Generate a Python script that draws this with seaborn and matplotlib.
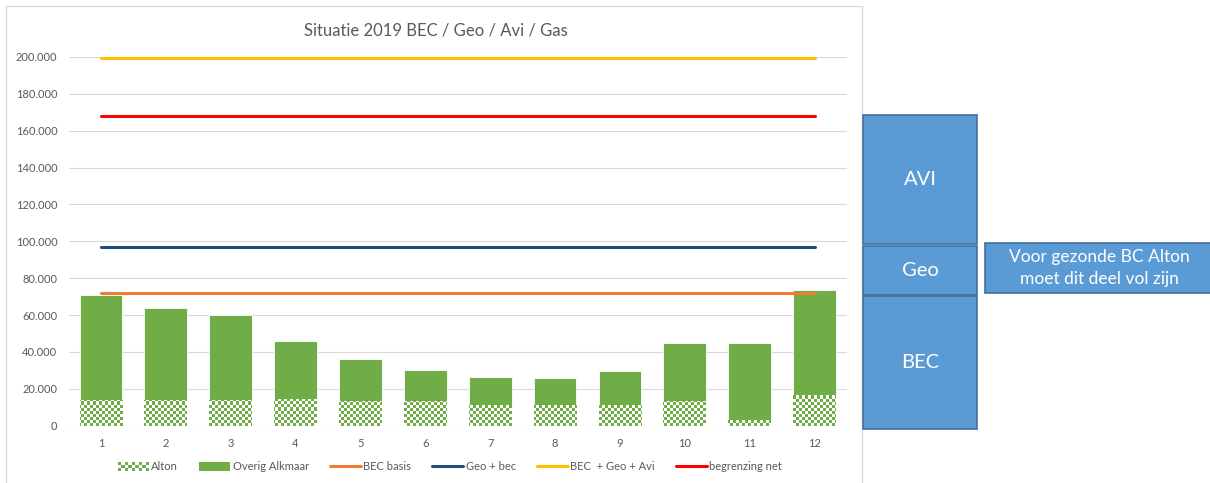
import numpy as np
import pandas as pd
import matplotlib
matplotlib.use("Agg")
import matplotlib.pyplot as plt
import seaborn as sns
from matplotlib.patches import Rectangle, Patch
from matplotlib.lines import Line2D
from matplotlib.colors import ListedColormap
from matplotlib.legend_handler import HandlerBase


# Data
months = ["1", "2", "3", "4", "5", "6", "7", "8", "9", "10", "11", "12"]
alton = [13800, 13800, 13800, 14700, 13400, 13400, 11200, 11200, 11200, 13400, 3300, 16500]
overig_alkmaar = [57200, 50200, 46000, 31100, 22800, 17000, 15200, 14900, 18500, 31200, 41600, 56900]
bec_basis = [72000, 72000, 72000, 72000, 72000, 72000, 72000, 72000, 72000, 72000, 72000, 72000]
geo_bec = [97000, 97000, 97000, 97000, 97000, 97000, 97000, 97000, 97000, 97000, 97000, 97000]
bec_geo_avi = [199500, 199500, 199500, 199500, 199500, 199500, 199500, 199500, 199500, 199500, 199500, 199500]
begrenzing_net = [168000, 168000, 168000, 168000, 168000, 168000, 168000, 168000, 168000, 168000, 168000, 168000]
y_ticks = [0, 20000, 40000, 60000, 80000, 100000, 120000, 140000, 160000, 180000, 200000]

df = pd.DataFrame({"maand": months, "alton": alton, "overig": overig_alkmaar})
df["totaal"] = df["alton"] + df["overig"]

# Colours
GREEN = "#70AD47"
ORANGE = "#ED7D31"
DARKBLUE = "#1F4E79"
YELLOW = "#FFC000"
RED = "#FF0000"
GREY = "#595959"
BOX = "#5B9BD5"
BOX_EDGE = "#41719C"

sns.set_theme(style="white")
plt.rcParams["font.family"] = ["Lato", "DejaVu Sans"]

W, H = 1210, 483
fig = plt.figure(figsize=(W / 100, H / 100), dpi=100)


def fx(px):
    return px / W


def fy(py):
    return 1 - py / H


# chart frame
fig.patches.append(Rectangle((fx(6), fy(490)), fx(862) - fx(6), fy(6) - fy(490),
                             transform=fig.transFigure, facecolor="none",
                             edgecolor="#D9D9D9", linewidth=1, zorder=-1))

ax = fig.add_axes([fx(68.5), fy(425.7), fx(847) - fx(68.5), fy(57) - fy(425.7)])
ax.set_facecolor("none")

# stacked bars: total (green), then Alton (checkerboard)
sns.barplot(data=df, x="maand", y="totaal", color=GREEN, saturation=1, width=0.66,
            edgecolor="white", linewidth=0.6, ax=ax, zorder=2)
n_before = len(ax.patches)
sns.barplot(data=df, x="maand", y="alton", color="white", saturation=1, width=0.66,
            edgecolor="white", linewidth=0.6, ax=ax, zorder=3)
alton_bars = ax.patches[n_before:]

# checkerboard texture for Alton
cols, rows = 260, 123
checker = (np.add.outer(np.arange(rows), np.arange(cols)) % 2).astype(float)
cmap = ListedColormap(["white", GREEN])
for bar in alton_bars:
    im = ax.imshow(checker, extent=(-0.5, 11.5, 0, 200000), aspect="auto",
                   interpolation="nearest", origin="lower", cmap=cmap, zorder=4)
    im.set_clip_path(bar)

# horizontal reference lines
x_pos = np.arange(len(months))
for vals, col in [(bec_basis, ORANGE), (geo_bec, DARKBLUE),
                  (bec_geo_avi, YELLOW), (begrenzing_net, RED)]:
    sns.lineplot(x=x_pos, y=vals, color=col, linewidth=2.2, ax=ax, zorder=5)

ax.set_xlim(-0.5, 11.5)
ax.set_ylim(0, 200000)
ax.set_yticks(y_ticks)
ax.set_yticklabels([f"{v:,.0f}".replace(",", ".") for v in y_ticks])
ax.yaxis.grid(True, color="#D9D9D9", linewidth=0.8, zorder=0)
ax.set_axisbelow(True)
ax.tick_params(length=0, labelsize=8, labelcolor=GREY, pad=8)
ax.tick_params(axis="x", pad=9)
ax.set_xlabel("")
ax.set_ylabel("")
for s in ax.spines.values():
    s.set_visible(False)
ax.axhline(0, color="#D9D9D9", linewidth=0.8, zorder=1)

fig.text(fx(436), fy(30), "Situatie 2019 BEC / Geo / Avi / Gas", ha="center",
         va="center", fontsize=12, color=GREY)


# legend
class CheckerHandler(HandlerBase):
    def create_artists(self, legend, orig_handle, xdescent, ydescent,
                       width, height, fontsize, trans):
        arts = []
        nx, ny = 9, 3
        w, h = width / nx, height / ny
        for i in range(nx):
            for j in range(ny):
                if (i + j) % 2 == 0:
                    arts.append(Rectangle((-xdescent + i * w, -ydescent + j * h), w, h,
                                          facecolor=GREEN, edgecolor="none", transform=trans))
        return arts


alton_handle = Patch(facecolor="white", edgecolor="none")
handles = [
    alton_handle,
    Patch(facecolor=GREEN, edgecolor="none"),
    Line2D([], [], color=ORANGE, linewidth=2.2),
    Line2D([], [], color=DARKBLUE, linewidth=2.2),
    Line2D([], [], color=YELLOW, linewidth=2.2),
    Line2D([], [], color=RED, linewidth=2.2),
]
labels = ["Alton", "Overig Alkmaar", "BEC basis", "Geo + bec", "BEC  + Geo + Avi", "begrenzing net"]
leg = fig.legend(handles, labels, loc="center", bbox_to_anchor=(fx(450), fy(467)),
                 ncol=6, frameon=False, fontsize=8, labelcolor=GREY,
                 handlelength=2.8, handleheight=0.8, handletextpad=0.2,
                 columnspacing=1.9, handler_map={alton_handle: CheckerHandler()})

# blue annotation boxes on the right
def box(x0, y0, x1, y1, text, size):
    fig.patches.append(Rectangle((fx(x0), fy(y1)), fx(x1) - fx(x0), fy(y0) - fy(y1),
                                 transform=fig.transFigure, facecolor=BOX,
                                 edgecolor=BOX_EDGE, linewidth=1.2, zorder=1))
    fig.text(fx((x0 + x1) / 2), fy((y0 + y1) / 2), text, ha="center", va="center",
             fontsize=size, color="white", linespacing=1.4)


box(863, 115, 977, 244, "AVI", 14.5)
box(863, 245.5, 977, 295, "Geo", 14.5)
box(863, 296, 977, 429, "BEC", 14.5)
box(985, 243, 1214, 293, "Voor gezonde BC Alton\nmoet dit deel vol zijn", 12.5)

fig.savefig("out.png", dpi=100)
